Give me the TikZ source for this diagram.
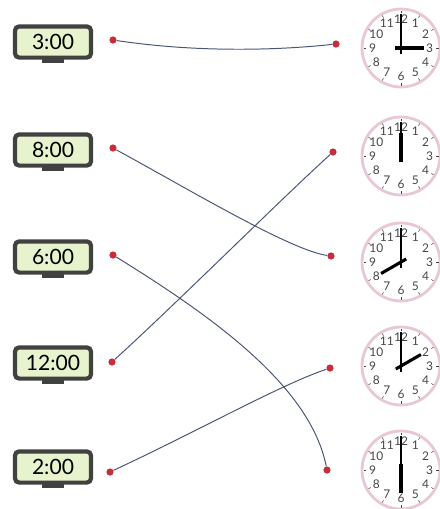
\documentclass[tikz,border=0pt]{standalone}
\usepackage{fontspec}
\setmainfont{Lato}
\usepackage{xcolor}
\definecolor{clkframe}{RGB}{65,65,65}
\definecolor{clkscreen}{RGB}{230,243,205}
\definecolor{clkring}{RGB}{232,200,210}
\definecolor{clknum}{RGB}{70,70,70}
\definecolor{wirecol}{RGB}{75,85,120}
\definecolor{dotred}{RGB}{200,45,60}
\usepackage{tikz}
\usetikzlibrary{calc}

\begin{document}
\begin{tikzpicture}[x=0.025cm, y=-0.025cm,
    digital/.style={draw=clkframe, line width=3pt, fill=clkscreen, rounded corners=3pt,
                    minimum width=1.9cm, minimum height=0.78cm, inner sep=0pt,
                    font=\fontsize{15}{15}\selectfont},
    face/.style={circle, draw=clkring, line width=2pt, fill=white,
                 minimum size=1.95cm, inner sep=0pt},
    numeral/.style={font=\fontsize{8.5}{8.5}\selectfont, text=clknum, inner sep=0pt},
    dot/.style={circle, fill=dotred, inner sep=0pt, minimum size=0.18cm},
    wire/.style={draw=wirecol, line width=0.7pt}]
  \useasboundingbox (0,0) rectangle (440,509);

  % Digital clocks
  \foreach \n/\y/\t in {1/42/3:00, 2/150/8:00, 3/257/6:00, 4/363/12:00, 5/467/2:00} {
      \fill[clkframe] (42,\y+15) rectangle (64,\y+21);
      \node[digital] (d\n) at (53,\y) {\t};
  }

  % Analog clocks
  \foreach \n/\y/\h in {1/48/3, 2/156/12, 3/262/8, 4/366/2, 5/470/6} {
      \node[face] (c\n) at (401,\y) {};
      \foreach \i in {1,...,12} {
          \draw[clknum, line width=0.4pt] (c\n) ++(30*\i-90:35) -- ++(30*\i-90:2.5);
          \path (c\n) ++(30*\i-90:28.5) node[numeral] {\i};
      }
      \draw[line width=1.3pt] (c\n) ++(90:6) -- ++(270:40);
      \draw[line width=2.2pt] (c\n) ++(30*\h+90:6) -- ++(30*\h-90:29);
  }

  % Dots
  \foreach \n/\x/\y in {1/113/40, 2/113/148, 3/113/255, 4/112/362, 5/110/472} {
      \node[dot] (l\n) at (\x,\y) {};
  }
  \foreach \n/\x/\y in {1/336/44, 2/333/152, 3/331/256, 4/330/368, 5/327/470} {
      \node[dot] (r\n) at (\x,\y) {};
  }

  % Matching lines
  \draw[wire] (l1) .. controls (200,53) and (280,50) .. (r1);
  \draw[wire] (l2) .. controls (190,190) and (290,250) .. (r3);
  \draw[wire] (l3) .. controls (210,315) and (310,385) .. (r5);
  \draw[wire] (l4) .. controls (180,300) and (280,200) .. (r2);
  \draw[wire] (l5) .. controls (200,430) and (280,385) .. (r4);
\end{tikzpicture}
\end{document}
